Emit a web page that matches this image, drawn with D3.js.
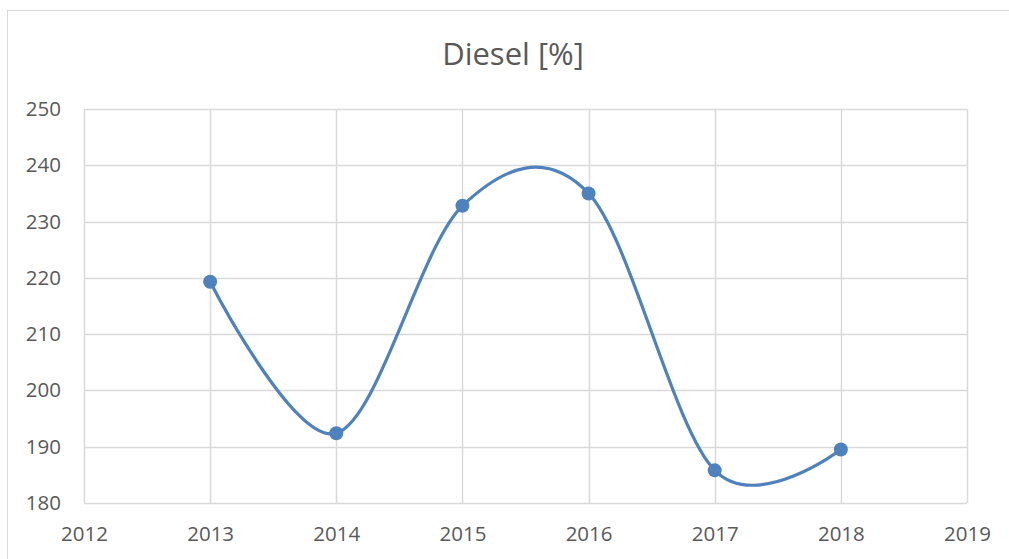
<!DOCTYPE html>
<html>
<head>
<meta charset="utf-8">
<script src="https://d3js.org/d3.v7.min.js"></script>
<style>
  body { margin: 0; background: #fff; }
  text { font-family: "Open Sans", "Liberation Sans", sans-serif; fill: #595959; }
</style>
</head>
<body>
<div id="chart"></div>
<script>
// Data
const years = [2013, 2014, 2015, 2016, 2017, 2018];
const diesel = [219.3, 192.4, 232.8, 235.0, 185.8, 189.5];
const xTicks = [2012, 2013, 2014, 2015, 2016, 2017, 2018, 2019];
const yTicks = [180, 190, 200, 210, 220, 230, 240, 250];

const width = 1009;
const height = 559;
const margin = { top: 109, right: 42, bottom: 56, left: 84 };

const svg = d3.select("#chart")
  .append("svg")
  .attr("width", width)
  .attr("height", height);

// outer chart frame
svg.append("rect")
  .attr("x", 7.5)
  .attr("y", 10.5)
  .attr("width", width + 10)
  .attr("height", height + 10)
  .attr("fill", "none")
  .attr("stroke", "#d9d9d9")
  .attr("stroke-width", 1);

const x = d3.scaleLinear()
  .domain([2012, 2019])
  .range([margin.left, width - margin.right]);

const y = d3.scaleLinear()
  .domain([180, 250])
  .range([height - margin.bottom, margin.top]);

// title
svg.append("text")
  .attr("x", 513)
  .attr("y", 65)
  .attr("text-anchor", "middle")
  .style("font-size", "31px")
  .text("Diesel [%]");

// gridlines
svg.append("g")
  .selectAll("line")
  .data(yTicks)
  .join("line")
  .attr("x1", margin.left)
  .attr("x2", width - margin.right)
  .attr("y1", d => Math.round(y(d)) + 0.5)
  .attr("y2", d => Math.round(y(d)) + 0.5)
  .attr("stroke", "#d9d9d9")
  .attr("stroke-width", 1.5);

svg.append("g")
  .selectAll("line")
  .data(xTicks)
  .join("line")
  .attr("x1", d => Math.round(x(d)) + 0.5)
  .attr("x2", d => Math.round(x(d)) + 0.5)
  .attr("y1", margin.top)
  .attr("y2", height - margin.bottom)
  .attr("stroke", "#d9d9d9")
  .attr("stroke-width", 1.5);

// axes (labels only, Excel style)
const yAxis = svg.append("g")
  .attr("transform", `translate(${margin.left},0)`)
  .call(d3.axisLeft(y).tickValues(yTicks).tickSize(0).tickPadding(23));
yAxis.select(".domain").remove();
yAxis.selectAll("text").style("font-size", "20.5px").attr("fill", "#595959");

const xAxis = svg.append("g")
  .attr("transform", `translate(0,${height - margin.bottom})`)
  .call(d3.axisBottom(x).tickValues(xTicks).tickFormat(d3.format("d")).tickSize(0).tickPadding(23));
xAxis.select(".domain").remove();
xAxis.selectAll("text").style("font-size", "20.5px").attr("fill", "#595959");

// smoothed line
const pts = years.map((yr, i) => [yr, diesel[i]]);
const line = d3.line()
  .x(d => x(d[0]))
  .y(d => y(d[1]))
  .curve(d3.curveCatmullRom.alpha(0));

svg.append("path")
  .datum(pts)
  .attr("d", line)
  .attr("fill", "none")
  .attr("stroke", "#4f81bd")
  .attr("stroke-width", 3.2);

svg.append("g")
  .selectAll("circle")
  .data(pts)
  .join("circle")
  .attr("cx", d => x(d[0]))
  .attr("cy", d => y(d[1]))
  .attr("r", 7)
  .attr("fill", "#4f81bd");
</script>
</body>
</html>
